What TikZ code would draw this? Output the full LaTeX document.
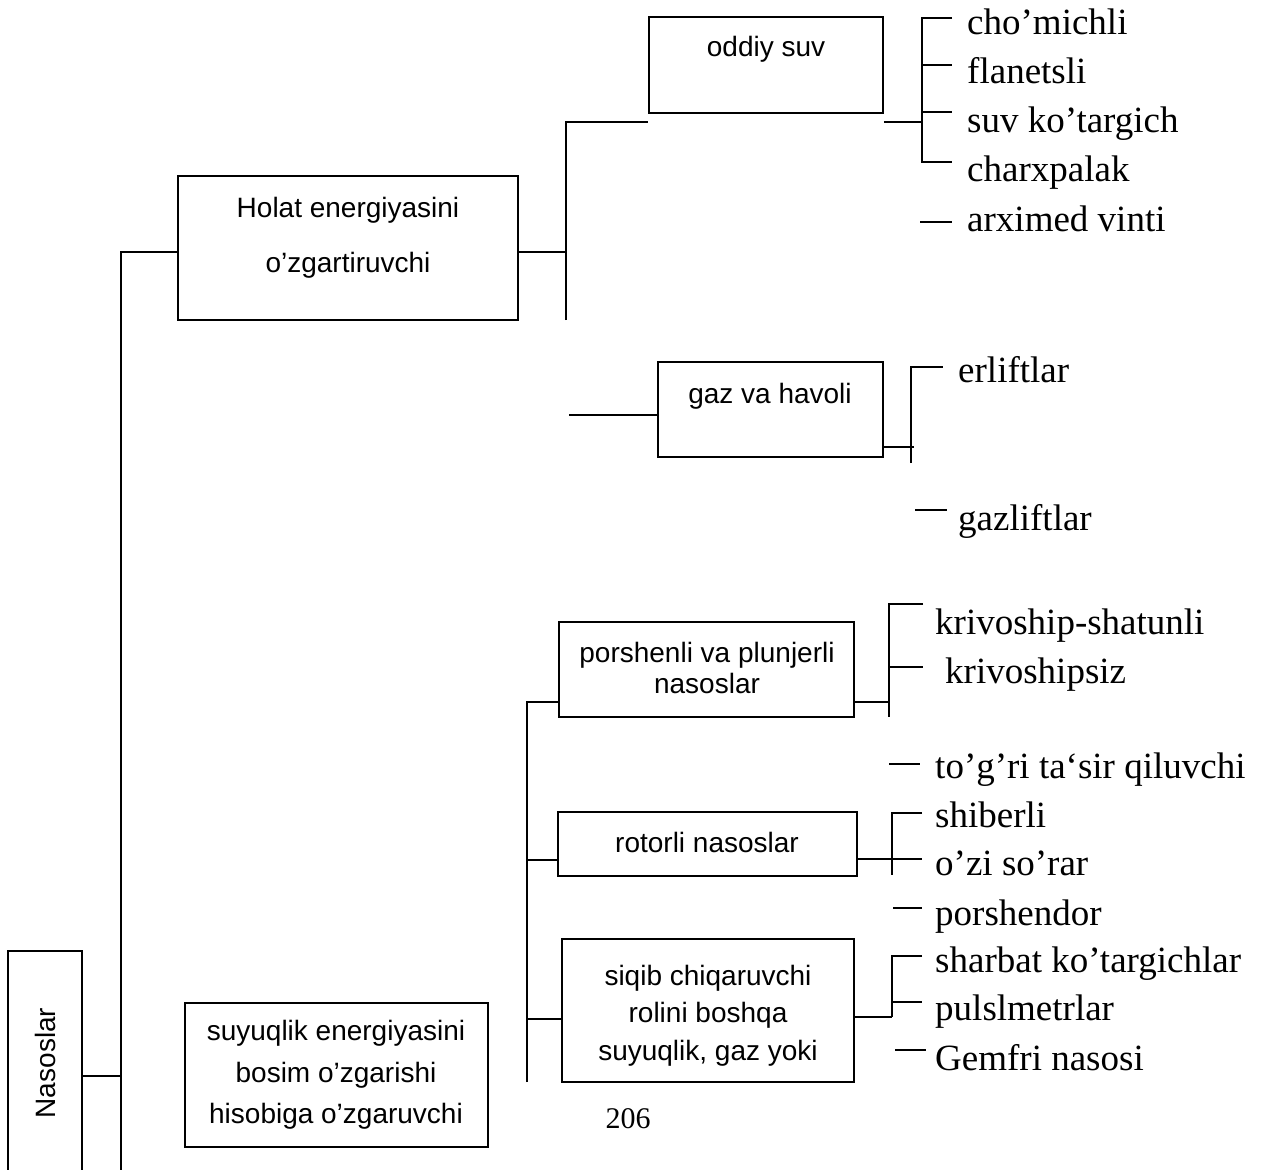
\documentclass[tikz,border=0pt]{standalone}
\usepackage{fontspec}
\setmainfont{Liberation Serif}
\newfontfamily\boxfont{Liberation Sans}
\begin{document}
\begin{tikzpicture}[x=1pt,y=-1pt,
  ln/.style={line width=1.8pt},
  box/.style={draw, line width=1.8pt, inner sep=0pt, rectangle},
  stxt/.style={font=\boxfont\fontsize{28}{34}\selectfont, anchor=base, inner sep=0pt},
  rtxt/.style={font=\fontsize{37}{44}\selectfont, anchor=base west, inner sep=0pt}]
\useasboundingbox (0,0) rectangle (1265,1169);
\fill[white] (0,0) rectangle (1265,1169);

% ---------- boxes ----------
\node[box, minimum width=74pt, minimum height=240pt] (nas) at (45,1071) {};
\node[stxt, rotate=90] (nast) at (55,1063) {Nasoslar};

\node[box, minimum width=340pt, minimum height=144pt] (holat) at (348,248) {};
\node[stxt] (holat1) at (348,217) {Holat energiyasini};
\node[stxt] (holat2) at (348,272) {o’zgartiruvchi};

\node[box, minimum width=234pt, minimum height=96pt] (oddiy) at (766,65) {};
\node[stxt] (oddiyt) at (766,57) {oddiy suv};

\node[box, minimum width=225pt, minimum height=95pt] (gaz) at (770.5,409.5) {};
\node[stxt] (gazt) at (770,403) {gaz va havoli};

\node[box, minimum width=295pt, minimum height=95pt] (porsh) at (706.5,669.5) {};
\node[stxt] (porsh1) at (707,662) {porshenli va plunjerli};
\node[stxt] (porsh2) at (707,693) {nasoslar};

\node[box, minimum width=299pt, minimum height=64pt] (rotor) at (707.5,844) {};
\node[stxt] (rotort) at (707,852) {rotorli nasoslar};

\node[box, minimum width=292pt, minimum height=143pt] (siqib) at (708,1010.5) {};
\node[stxt] (siqib1) at (708,985) {siqib chiqaruvchi};
\node[stxt] (siqib2) at (708,1022) {rolini boshqa};
\node[stxt] (siqib3) at (708,1060) {suyuqlik, gaz yoki};

\node[box, minimum width=303pt, minimum height=144pt] (suyuq) at (336.5,1075) {};
\node[stxt] (suyuq1) at (336,1040) {suyuqlik energiyasini};
\node[stxt] (suyuq2) at (336,1082) {bosim o’zgarishi};
\node[stxt] (suyuq3) at (336,1123) {hisobiga o’zgaruvchi};

\node[font=\fontsize{30}{36}\selectfont, anchor=base, inner sep=0pt] (pg) at (628,1128) {206};

% ---------- leaf labels ----------
\node[rtxt] (l1) at (967,35) {cho’michli};
\node[rtxt] (l2) at (967,84) {flanetsli};
\node[rtxt] (l3) at (967,133) {suv ko’targich};
\node[rtxt] (l4) at (967,182) {charxpalak};
\node[rtxt] (l5) at (967,231) {arximed vinti};
\node[rtxt] (l6) at (958,382) {erliftlar};
\node[rtxt] (l7) at (958,530) {gazliftlar};
\node[rtxt] (l8) at (935,634) {krivoship-shatunli};
\node[rtxt] (l9) at (945,683) {krivoshipsiz};
\node[rtxt] (l10) at (935,778) {to’g’ri ta‘sir qiluvchi};
\node[rtxt] (l11) at (935,827) {shiberli};
\node[rtxt] (l12) at (935,875) {o’zi so’rar};
\node[rtxt] (l13) at (935,925) {porshendor};
\node[rtxt] (l14) at (935,972) {sharbat ko’targichlar};
\node[rtxt] (l15) at (935,1020) {pulslmetrlar};
\node[rtxt] (l16) at (935,1070) {Gemfri nasosi};

% ---------- main trunk ----------
\coordinate (tTop) at (121,252);
\coordinate (tBot) at (121,1175);
\coordinate (nasJ) at (121,1076);
\draw[ln] (tBot) -- (tTop) -- (holat.west |- tTop);
\draw[ln] (nas.east |- nasJ) -- (nasJ);

% ---------- upper branch ----------
\coordinate (hJ) at (566,252);
\coordinate (hTop) at (566,122);
\coordinate (hBot) at (566,320);
\draw[ln] (holat.east |- hJ) -- (hJ);
\draw[ln] (hBot) -- (hTop) -- (oddiy.west |- hTop);

\coordinate (oJ) at (922,122);
\coordinate (oT) at (922,18);
\coordinate (oB) at (922,162);
\draw[ln] (oddiy.east |- oJ) -- (oJ);
\draw[ln] (952,18) -- (oT) -- (oB) -- (952,162);
\draw[ln] (922,65) -- (952,65);
\draw[ln] (922,112) -- (952,112);
\draw[ln] (920,222) -- (952,222);

\coordinate (gL) at (569,415);
\draw[ln] (gL) -- (gaz.west |- gL);
\coordinate (gJ) at (914,447);
\draw[ln] (gaz.east |- gJ) -- (gJ);
\draw[ln] (911,463) -- (911,367) -- (943,367);
\draw[ln] (915,510) -- (947,510);

% ---------- lower branch ----------
\coordinate (pL) at (527,702);
\coordinate (pB) at (527,1082);
\coordinate (rL) at (527,860);
\coordinate (sL) at (527,1019);
\draw[ln] (pB) -- (pL) -- (porsh.west |- pL);
\draw[ln] (rL) -- (rotor.west |- rL);
\draw[ln] (sL) -- (siqib.west |- sL);

\coordinate (pJ) at (889,702);
\draw[ln] (porsh.east |- pJ) -- (pJ);
\draw[ln] (923,604) -- (889,604) -- (889,717);
\draw[ln] (889,667) -- (923,667);
\draw[ln] (889,764) -- (920,764);

\coordinate (rJ) at (922,859);
\draw[ln] (rotor.east |- rJ) -- (rJ);
\draw[ln] (922,813) -- (892,813) -- (892,875);
\draw[ln] (893,908) -- (922,908);

\coordinate (sJ) at (892,1017);
\draw[ln] (siqib.east |- sJ) -- (sJ);
\draw[ln] (922,956) -- (892,956) -- (sJ);
\draw[ln] (892,1002) -- (922,1002);
\draw[ln] (895,1050) -- (926,1050);
\end{tikzpicture}
\end{document}
